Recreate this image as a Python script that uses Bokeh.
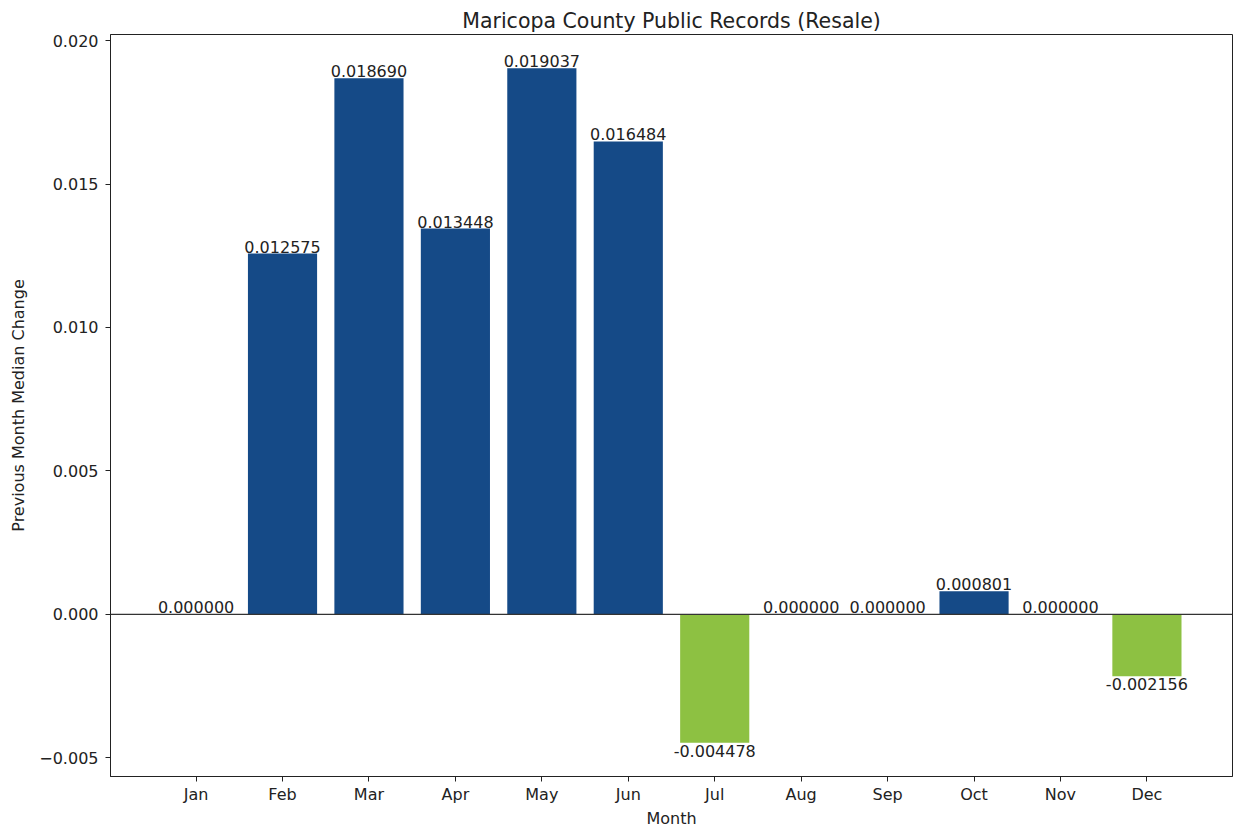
from bokeh.plotting import figure
from bokeh.models import ColumnDataSource, Range1d, FixedTicker, Span, CustomJSTickFormatter
from bokeh.embed import file_html
from bokeh.resources import INLINE
from bokeh.core.properties import value

months = ["Jan", "Feb", "Mar", "Apr", "May", "Jun", "Jul", "Aug", "Sep", "Oct", "Nov", "Dec"]
changes = [0.0, 0.012575, 0.018690, 0.013448, 0.019037, 0.016484,
           -0.004478, 0.0, 0.0, 0.000801, 0.0, -0.002156]
y_ticks = [-0.005, 0.0, 0.005, 0.010, 0.015, 0.020]

BLUE = "#154a87"
GREEN = "#8dc142"
FONT = "DejaVu Sans"
FS = "16px"

xs = list(range(len(months)))
colors = [BLUE if v >= 0 else GREEN for v in changes]
labels = [f"{v:.6f}" for v in changes]

src = ColumnDataSource(dict(x=xs, top=changes, color=colors))
pos = ColumnDataSource(dict(x=[x for x, v in zip(xs, changes) if v >= 0],
                            y=[v for v in changes if v >= 0],
                            label=[l for l, v in zip(labels, changes) if v >= 0]))
neg = ColumnDataSource(dict(x=[x for x, v in zip(xs, changes) if v < 0],
                            y=[v for v in changes if v < 0],
                            label=[l for l, v in zip(labels, changes) if v < 0]))

span = max(changes) - min(changes)
p = figure(width=1233, height=830, output_backend="svg", toolbar_location=None,
           x_range=Range1d(-0.4 - 0.05 * 11.8, 11.4 + 0.05 * 11.8),
           y_range=Range1d(min(changes) - 0.05 * span, max(changes) + 0.05 * span),
           title="Maricopa County Public Records (Resale)",
           min_border_left=110, min_border_right=1, min_border_top=34, min_border_bottom=52)

p.title.align = "center"
p.title.text_font = FONT
p.title.text_font_style = "normal"
p.title.text_font_size = "20.5px"
p.title.text_color = "#222222"
p.title.standoff = 4

p.vbar(x="x", top="top", bottom=0, width=0.8, color="color", source=src, line_color=None)
p.add_layout(Span(location=0, dimension="width", line_color="#333333", line_width=1.2))

p.text(x="x", y="y", text="label", source=pos, text_align="center", text_baseline="bottom",
       text_font=value(FONT), text_font_size=FS, text_color="#222222", y_offset=-1)
p.text(x="x", y="y", text="label", source=neg, text_align="center", text_baseline="top",
       text_font=value(FONT), text_font_size=FS, text_color="#222222", y_offset=2)

p.xgrid.visible = False
p.ygrid.visible = False
p.outline_line_color = "#222222"
p.outline_line_width = 1

p.xaxis.ticker = FixedTicker(ticks=xs)
p.xaxis.major_label_overrides = {i: m for i, m in enumerate(months)}
p.yaxis.ticker = FixedTicker(ticks=y_ticks)
p.yaxis.formatter = CustomJSTickFormatter(code="return tick.toFixed(3).replace('-', '\u2212');")

for ax in (p.xaxis[0], p.yaxis[0]):
    ax.axis_line_color = "#222222"
    ax.major_tick_line_color = "#222222"
    ax.major_tick_out = 5
    ax.major_tick_in = 0
    ax.minor_tick_line_color = None
    ax.major_label_text_font = FONT
    ax.major_label_text_font_size = FS
    ax.major_label_text_color = "#222222"
    ax.axis_label_text_font = FONT
    ax.axis_label_text_font_size = FS
    ax.axis_label_text_font_style = "normal"
    ax.axis_label_text_color = "#222222"

p.xaxis.axis_label = "Month"
p.yaxis.axis_label = "Previous Month Median Change"
p.xaxis.axis_label_standoff = 2
p.yaxis.axis_label_standoff = 8
p.xaxis.major_label_standoff = 3
p.yaxis.major_label_standoff = 7

open("out.html", "w").write(file_html(p, INLINE))
